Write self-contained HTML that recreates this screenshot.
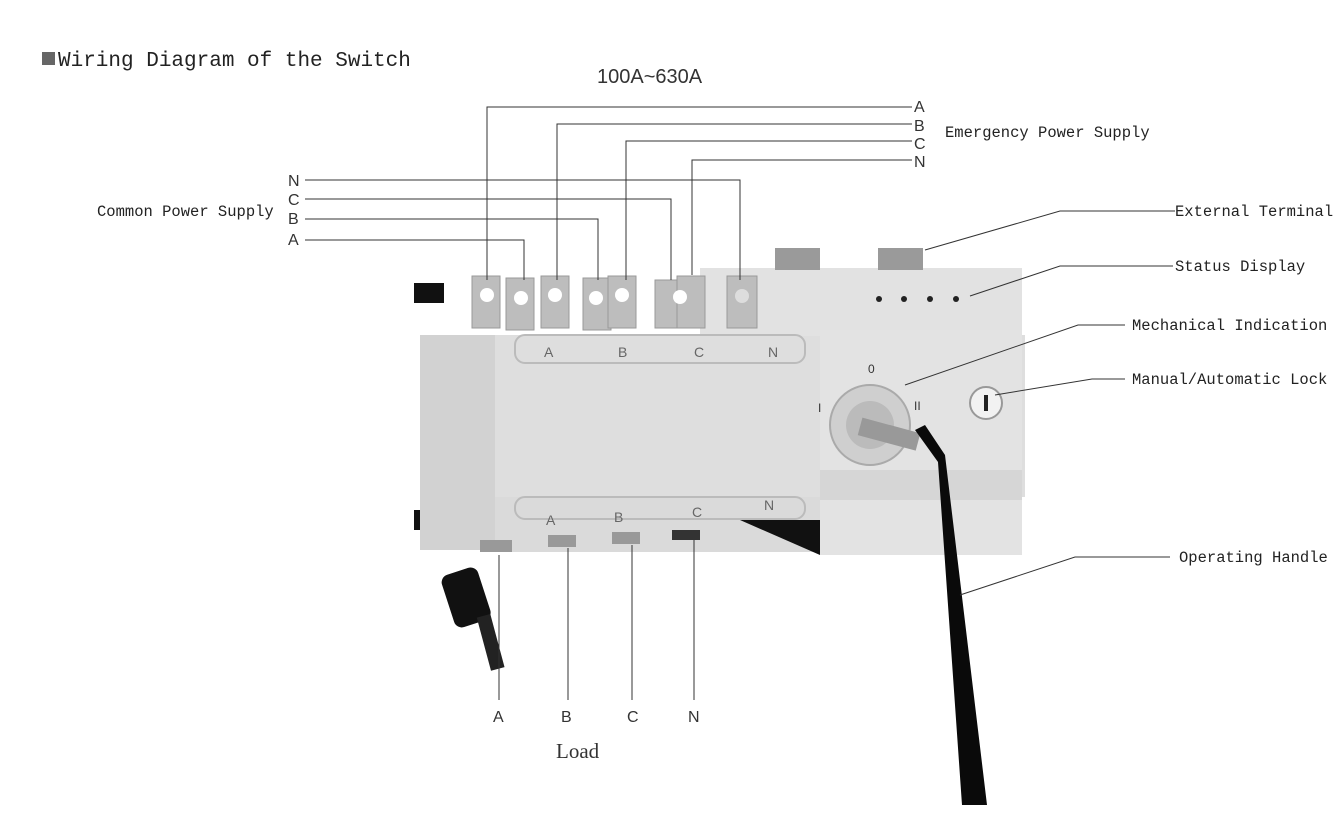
<!DOCTYPE html>
<html><head><meta charset="utf-8"><style>
html,body{margin:0;padding:0;background:#fff;}
svg{display:block}
.m{font-family:"Liberation Mono","Noto Serif CJK SC",monospace;fill:#222}
.s{font-family:"Liberation Sans",sans-serif;fill:#333}
</style></head><body>
<svg width="1343" height="827" viewBox="0 0 1343 827" xmlns="http://www.w3.org/2000/svg">
<rect x="42" y="52" width="13" height="13" fill="#666"/>
<text x="58" y="66" class="m" font-size="21">Wiring Diagram of the Switch</text>
<text x="597" y="83" class="s" font-size="20">100A~630A</text>

<!-- body -->
<rect x="414" y="283" width="30" height="20" fill="#111"/>
<rect x="414" y="510" width="30" height="20" fill="#111"/>
<rect x="420" y="335" width="605" height="162" fill="#dedede"/>
<rect x="420" y="335" width="75" height="215" fill="#d2d2d2"/>
<rect x="700" y="268" width="322" height="68" fill="#e2e2e2"/>
<rect x="820" y="330" width="202" height="225" fill="#e3e3e3"/>
<rect x="495" y="497" width="325" height="55" fill="#dadada"/>
<rect x="820" y="470" width="202" height="30" fill="#d6d6d6"/>
<polygon points="740,520 820,520 820,555" fill="#111"/>
<rect x="515" y="335" width="290" height="28" rx="10" fill="none" stroke="#bbb" stroke-width="2"/>
<rect x="515" y="497" width="290" height="22" rx="10" fill="none" stroke="#bbb" stroke-width="2"/>
<g class="s" font-size="14" fill="#666" style="fill:#666">
<text x="544" y="357">A</text><text x="618" y="357">B</text><text x="694" y="357">C</text><text x="768" y="357">N</text>
<text x="546" y="525">A</text><text x="614" y="522">B</text><text x="692" y="517">C</text><text x="764" y="510">N</text>
</g>
<!-- terminals top -->
<g fill="#bdbdbd" stroke="#999">
<rect x="472" y="276" width="28" height="52"/><rect x="506" y="278" width="28" height="52"/>
<rect x="541" y="276" width="28" height="52"/><rect x="583" y="278" width="28" height="52"/>
<rect x="608" y="276" width="28" height="52"/><rect x="655" y="280" width="30" height="48"/>
<rect x="677" y="276" width="28" height="52"/><rect x="727" y="276" width="30" height="52"/>
</g>
<g fill="#fff">
<circle cx="487" cy="295" r="7"/><circle cx="521" cy="298" r="7"/><circle cx="555" cy="295" r="7"/>
<circle cx="596" cy="298" r="7"/><circle cx="622" cy="295" r="7"/><circle cx="680" cy="297" r="7"/><circle cx="742" cy="296" r="7" fill="#ddd"/>
</g>
<rect x="775" y="248" width="45" height="22" fill="#9a9a9a"/>
<rect x="878" y="248" width="45" height="22" fill="#9a9a9a"/>
<g fill="#222"><circle cx="879" cy="299" r="3"/><circle cx="904" cy="299" r="3"/><circle cx="930" cy="299" r="3"/><circle cx="956" cy="299" r="3"/></g>
<!-- bottom terminals -->
<g fill="#999"><rect x="480" y="540" width="32" height="12"/><rect x="548" y="535" width="28" height="12"/><rect x="612" y="532" width="28" height="12"/><rect x="672" y="530" width="28" height="10" fill="#333"/></g>
<!-- key -->
<rect x="447" y="570" width="38" height="55" rx="8" fill="#111" transform="rotate(-18 466 597)"/>
<rect x="483" y="615" width="14" height="55" fill="#222" transform="rotate(-15 490 640)"/>
<!-- knob -->
<circle cx="870" cy="425" r="40" fill="#cfcfcf" stroke="#aaa" stroke-width="2"/>
<circle cx="870" cy="425" r="24" fill="#bbb"/>
<rect x="860" y="420" width="60" height="18" fill="#999" transform="rotate(15 870 428)"/>
<polygon points="915,430 938,462 962,805 987,805 945,455 925,425" fill="#0a0a0a"/>
<text x="868" y="373" class="s" font-size="12">0</text>
<text x="818" y="412" class="s" font-size="12">I</text>
<text x="914" y="410" class="s" font-size="12">II</text>
<circle cx="986" cy="403" r="16" fill="#f2f2f2" stroke="#999" stroke-width="2"/>
<rect x="984" y="395" width="4" height="16" fill="#222"/>

<!-- connector lines -->
<g stroke="#333" stroke-width="1" fill="none">
<polyline points="487,280 487,107 912,107"/>
<polyline points="557,280 557,124 912,124"/>
<polyline points="626,280 626,141 912,141"/>
<polyline points="692,275 692,160 912,160"/>
<polyline points="305,180 740,180 740,280"/>
<polyline points="305,199 671,199 671,280"/>
<polyline points="305,219 598,219 598,280"/>
<polyline points="305,240 524,240 524,280"/>
<polyline points="925,250 1060,211 1175,211"/>
<polyline points="970,296 1060,266 1173,266"/>
<polyline points="905,385 1078,325 1125,325"/>
<polyline points="995,395 1092,379 1125,379"/>
<polyline points="960,595 1075,557 1170,557"/>
<line x1="499" y1="555" x2="499" y2="700"/><line x1="568" y1="548" x2="568" y2="700"/>
<line x1="632" y1="545" x2="632" y2="700"/><line x1="694" y1="540" x2="694" y2="700"/>
</g>
<g class="s" font-size="16">
<text x="914" y="112">A</text><text x="914" y="131">B</text><text x="914" y="149">C</text><text x="914" y="167">N</text>
<text x="288" y="186">N</text><text x="288" y="205">C</text><text x="288" y="224">B</text><text x="288" y="245">A</text>
<text x="493" y="722">A</text><text x="561" y="722">B</text><text x="627" y="722">C</text><text x="688" y="722">N</text>
</g>
<g class="m" font-size="15.5">
<text x="945" y="137">Emergency Power Supply</text>
<text x="97" y="216">Common Power Supply</text>
<text x="1175" y="216">External Terminal</text>
<text x="1175" y="271">Status Display</text>
<text x="1132" y="330">Mechanical Indication</text>
<text x="1132" y="384">Manual/Automatic Lock</text>
<text x="1179" y="562">Operating Handle</text>
</g>
<text x="556" y="758" font-family="Liberation Serif,serif" font-size="21" fill="#333">Load</text>
</svg>
</body></html>
